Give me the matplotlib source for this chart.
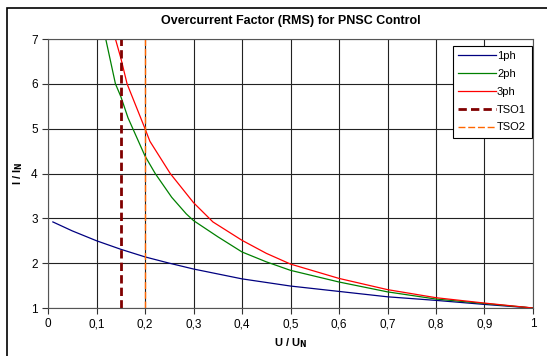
import numpy as np
import matplotlib
matplotlib.use('Agg')
import matplotlib.pyplot as plt
from matplotlib.patches import Rectangle
from matplotlib.ticker import FuncFormatter

plt.rcParams['font.family'] = ['Liberation Sans', 'DejaVu Sans']

# data
x_1ph = [0.01, 0.05, 0.1, 0.15, 0.2, 0.25, 0.3, 0.4, 0.5, 0.6, 0.7, 0.8, 0.9, 1.0]
y_1ph = [2.92, 2.72, 2.5, 2.31, 2.14, 2.0, 1.87, 1.65, 1.49, 1.37, 1.25, 1.17, 1.08, 1.0]

x_2ph = [0.119, 0.139, 0.15, 0.165, 0.2, 0.221, 0.255, 0.285, 0.3, 0.35, 0.4, 0.45, 0.5, 0.6, 0.7, 0.8, 0.9, 1.0]
y_2ph = [7.0, 6.0, 5.72, 5.24, 4.39, 4.0, 3.47, 3.1, 2.95, 2.59, 2.25, 2.03, 1.84, 1.58, 1.36, 1.2, 1.1, 1.0]

x_3ph = [0.139, 0.15, 0.163, 0.2, 0.21, 0.252, 0.3, 0.34, 0.4, 0.45, 0.5, 0.6, 0.7, 0.8, 0.9, 1.0]
y_3ph = [7.0, 6.58, 6.0, 5.0, 4.72, 4.0, 3.35, 2.92, 2.51, 2.22, 1.98, 1.66, 1.41, 1.23, 1.11, 1.0]

tso1 = 0.15
tso2 = 0.2

fig = plt.figure(figsize=(5.47, 3.56), dpi=100)
ax = fig.add_axes([0.0878, 0.1348, 0.8866, 0.7556])

# outer frame of the chart (only top/left visible in the crop)
fig.patches.append(Rectangle((7 / 547, -0.1), 1.2, 1 - 8 / 356 + 0.1,
                             transform=fig.transFigure, fill=False,
                             edgecolor='black', lw=1.2))

ax.plot(x_1ph, y_1ph, color='#000080', lw=0.9, label='1ph')
ax.plot(x_2ph, y_2ph, color='#008000', lw=0.9, label='2ph')
ax.plot(x_3ph, y_3ph, color='#FF0000', lw=0.9, label='3ph')
ax.axvline(tso1, color='#800000', lw=2, ls=(0, (3, 1.5)), label='TSO1')
ax.axvline(tso2, color='#FF6600', lw=1, ls=(0, (5, 2)), label='TSO2')

ax.set_xlim(0, 1)
ax.set_ylim(1, 7)
ax.set_xticks(np.arange(0, 1.01, 0.1))
ax.set_yticks(range(1, 8))
ax.xaxis.set_major_formatter(FuncFormatter(lambda v, p: ('%g' % round(v, 1)).replace('.', ',')))
ax.grid(True, color='#222222', lw=0.8)
ax.set_axisbelow(True)
ax.tick_params(labelsize=8.5, length=4, width=0.8, direction='out', color='#333333')
for s in ax.spines.values():
    s.set_color('#555555')
    s.set_linewidth(0.8)

ax.set_title('Overcurrent Factor (RMS) for PNSC Control', fontsize=9, fontweight='bold', pad=11)
ax.set_xlabel('U / U$_\\mathbf{N}$', fontsize=8, fontweight='bold', labelpad=4)
ax.set_ylabel('I / I$_\\mathbf{N}$', fontsize=8, fontweight='bold', labelpad=4)

leg = ax.legend(loc='upper right', bbox_to_anchor=(0.997, 0.975), fontsize=8,
                fancybox=False, framealpha=1, edgecolor='black',
                handlelength=3.4, handletextpad=0.1, labelspacing=0.7,
                borderpad=0.5, borderaxespad=0)
leg.get_frame().set_linewidth(0.8)

fig.savefig('out.png', dpi=100)
